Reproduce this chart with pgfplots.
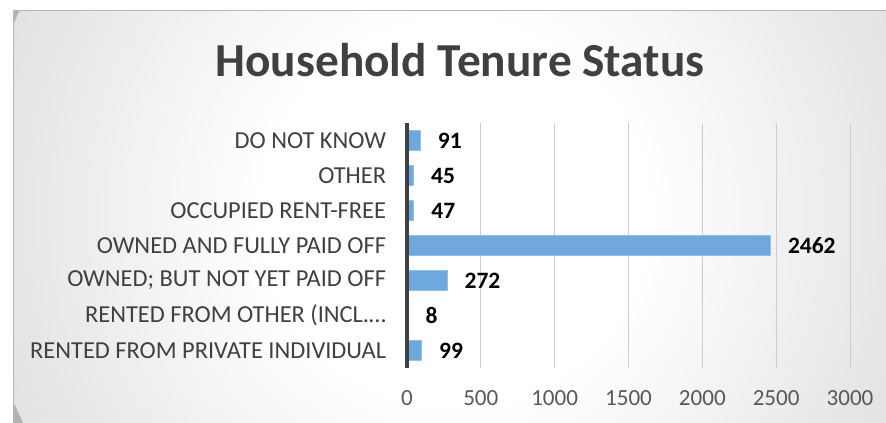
\documentclass[border=0pt]{standalone}
\usepackage{pgfplots}
\pgfplotsset{compat=1.18}
\usepackage{fontspec}
\setmainfont{Carlito}
\definecolor{barblue}{RGB}{111,168,220}
\definecolor{baredge}{RGB}{150,192,230}
\definecolor{txtgray}{RGB}{64,64,64}
\definecolor{tickgray}{RGB}{89,89,89}
\definecolor{gridgray}{RGB}{205,205,205}
\pgfdeclareradialshading{bgshade}{\pgfpoint{0bp}{0bp}}{color(0bp)=(white); color(10bp)=(white); color(50bp)=(black!30)}
\begin{document}
\begin{tikzpicture}[x=0.75pt,y=0.75pt]
\useasboundingbox (0,0) rectangle (886,423);
\begin{scope}
\clip (13,0) rectangle (886,412);
\fill[black!30] (13,0) rectangle (886,412);
\shade[shading=bgshade] (455,210) circle (360pt);
\end{scope}
\draw[black!28, line width=0.75pt] (13,0) -- (13,412) -- (886,412);
\node[anchor=base, font=\bfseries\fontsize{35.5}{40}\selectfont, text=txtgray] at (460,346) {Household Tenure Status};
\begin{axis}[
 at={(305.25pt,41.25pt)}, anchor=south west,
 scale only axis, width=332.25pt, height=183.75pt,
 xbar, bar width=15pt,
 xmin=0, xmax=3000, ymin=-0.5, ymax=6.5,
 xtick={0,500,...,3000},
 ytick={0,...,6},
 yticklabels={RENTED FROM PRIVATE INDIVIDUAL, RENTED FROM OTHER (INCL.…, OWNED; BUT NOT YET PAID OFF, OWNED AND FULLY PAID OFF, OCCUPIED RENT-FREE, OTHER, DO NOT KNOW},
 xmajorgrids, grid style={gridgray, line width=0.75pt},
 axis line style={draw=none},
 major tick style={draw=none},
 /pgf/number format/assume math mode=true,
 /pgf/number format/1000 sep={},
 xticklabel style={font=\fontsize{17.3}{20}\selectfont, text=tickgray, inner sep=0pt, yshift=-17pt},
 yticklabel style={font=\fontsize{18.3}{20}\selectfont, text=txtgray, inner sep=0pt, anchor=east, xshift=-11.25pt},
 nodes near coords={\pgfmathprintnumber{\pgfplotspointmeta}},
 point meta=x,
 nodes near coords style={anchor=west, inner sep=0pt, xshift=12.75pt, font=\bfseries\fontsize{17.6}{20}\selectfont, text=black},
 clip=false,
]
\addplot[fill=barblue, draw=baredge, line width=0.75pt] coordinates {(99,0) (8,1) (272,2) (2462,3) (47,4) (45,5) (91,6)};
\draw[txtgray, line width=2.4pt] (axis cs:0,-0.5) -- (axis cs:0,6.5);
\end{axis}
\end{tikzpicture}
\end{document}
